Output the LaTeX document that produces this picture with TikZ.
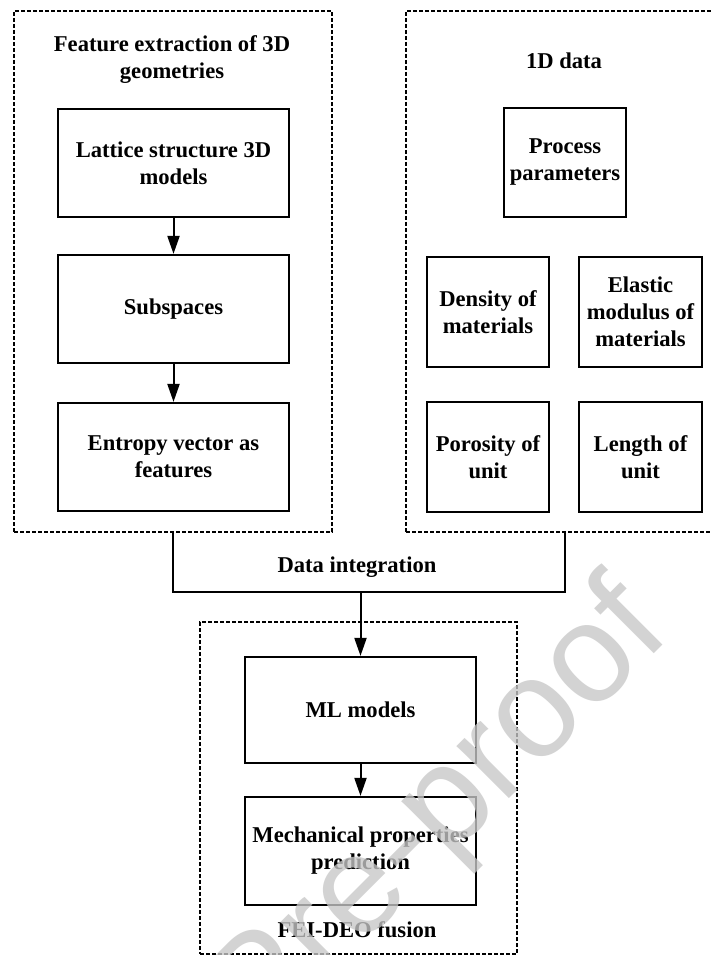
\documentclass[tikz,border=0pt]{standalone}
\usepackage{fontspec}
\setmainfont{Liberation Serif}
\newfontfamily\wmfont{Liberation Sans}
\usetikzlibrary{arrows.meta}

\tikzset{
  every node/.style={font=\bfseries\fontsize{22.6}{27}\selectfont, align=center},
  stepbox/.style={draw, line width=2.2pt, inner sep=0pt},
  groupbox/.style={draw, line width=1.8pt, dash pattern=on 4pt off 2pt, inner sep=0pt},
  link/.style={line width=2pt},
  flow/.style={line width=2pt, -{Triangle[length=18pt,width=12pt]}},
  mark label/.style={font=\bfseries\fontsize{22.6}{27}\selectfont},
}

\begin{document}
\begin{tikzpicture}[x=1pt,y=-1pt]
  \useasboundingbox (0,0) rectangle (711,955);
  \clip (0,0) rectangle (711,955);
  \fill[white] (0,0) rectangle (711,955);

  % group frames
  \node[groupbox, minimum width=318pt, minimum height=521pt] (lbox) at (173,271.5) {};
  \node[groupbox, minimum width=318pt, minimum height=521pt] (rbox) at (565,271.5) {};
  \node[groupbox, minimum width=317pt, minimum height=332pt] (fbox) at (358.5,788) {};

  % group titles
  \node (ltitle) at (172,60) {Feature extraction of 3D\\geometries};
  \node (rtitle) at (564,61) {1D data};
  \node (ftitle) at (357,930) {FEI-DEO fusion};

  % geometry feature chain
  \node[stepbox, minimum width=231pt, minimum height=108pt] (lattice) at (173.5,163) {Lattice structure 3D\\models};
  \node[stepbox, minimum width=231pt, minimum height=108pt] (sub) at (173.5,309) {Subspaces};
  \node[stepbox, minimum width=231pt, minimum height=108pt] (entropy) at (173.5,457) {Entropy vector as\\features};

  % 1D data items
  \node[stepbox, minimum width=122pt, minimum height=109pt] (proc) at (565,162.5) {Process\\parameters};
  \node[stepbox, minimum width=122pt, minimum height=110pt] (dens) at (488,312) {Density of\\materials};
  \node[stepbox, minimum width=123pt, minimum height=110pt] (elas) at (640.5,312) {Elastic\\modulus of\\materials};
  \node[stepbox, minimum width=122pt, minimum height=110pt] (poro) at (488,457) {Porosity of\\unit};
  \node[stepbox, minimum width=123pt, minimum height=110pt] (len) at (640.5,457) {Length of\\unit};

  % fusion chain
  \node[stepbox, minimum width=231pt, minimum height=106pt] (ml) at (360.5,710) {ML models};
  \node[stepbox, minimum width=231pt, minimum height=108pt] (mech) at (360.5,851) {Mechanical properties\\prediction};

  % arrows inside the feature chain
  \draw[flow] (lattice) -- (sub);
  \draw[flow] (sub) -- (entropy);

  % data integration bracket
  \coordinate (join) at (ml.north |- 0,592);
  \draw[link] (lbox.south) |- (join) -| (rbox.south);
  \node[mark label] (dint) at (357,567) {Data integration};
  \draw[flow] (join) -- (ml);
  \draw[flow] (ml) -- (mech);

  % watermark
  \node[font=\wmfont\fontsize{140}{140}\selectfont, text=black!22, opacity=0.78, rotate=45] (wm) at (441,816) {Pre-proof};
\end{tikzpicture}
\end{document}
